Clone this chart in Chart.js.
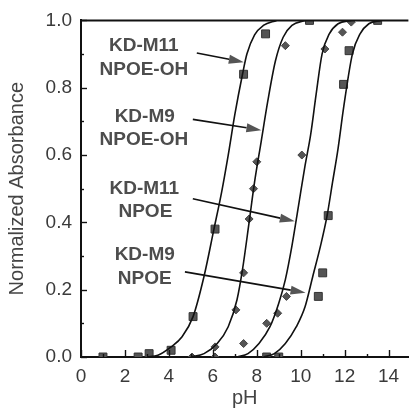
<!DOCTYPE html>
<html>
<head>
<meta charset="utf-8">
<script src="https://cdn.jsdelivr.net/npm/chart.js@4"></script>
<style>
  html, body { margin: 0; padding: 0; background: #fff; }
  #wrap { width: 415px; height: 410px; }
</style>
</head>
<body>
<div id="wrap"><canvas id="chart"></canvas></div>
<script>
// fitted curves (pH, normalized absorbance)
const curve1X = [3.0, 3.5, 4.1, 4.6, 5.1, 5.6, 6.05, 6.4, 6.7, 7.0, 7.35, 7.55, 7.9, 8.3, 8.9];
const curve1Y = [0, 0.005, 0.03, 0.06, 0.12, 0.24, 0.38, 0.49, 0.6, 0.72, 0.84, 0.9, 0.957, 0.985, 1.0];
const curve2X = [5.0, 5.6, 6.2, 6.7, 7.1, 7.35, 7.65, 7.9, 8.2, 8.5, 8.85, 9.2, 9.6, 10.2];
const curve2Y = [0, 0.01, 0.04, 0.09, 0.17, 0.26, 0.4, 0.52, 0.64, 0.76, 0.88, 0.95, 0.985, 1.0];
const curve3X = [7.1, 7.6, 8.1, 8.6, 9.0, 9.3, 9.6, 9.9, 10.2, 10.45, 10.7, 10.97, 11.3, 11.7, 12.3];
const curve3Y = [0, 0.01, 0.04, 0.09, 0.16, 0.23, 0.33, 0.45, 0.57, 0.66, 0.78, 0.9, 0.96, 0.99, 1.0];
const curve4X = [8.3, 8.8, 9.3, 9.8, 10.2, 10.55, 10.9, 11.2, 11.45, 11.7, 11.95, 12.35, 12.7, 13.1, 13.65];
const curve4Y = [0, 0.01, 0.04, 0.09, 0.15, 0.24, 0.33, 0.42, 0.52, 0.62, 0.74, 0.9, 0.96, 0.99, 1.0];

// measured points
const sq1X = [1.0, 2.6, 3.1, 4.1, 5.1, 6.1, 7.4, 8.4, 10.4];
const sq1Y = [0, 0, 0.01, 0.02, 0.12, 0.38, 0.84, 0.96, 1.0];
const dia2X = [5.05, 6.1, 6.1, 7.05, 7.4, 7.65, 7.85, 8.0, 9.3];
const dia2Y = [0, 0.03, 0, 0.14, 0.25, 0.41, 0.5, 0.58, 0.925];
const dia3X = [7.4, 8.45, 8.95, 9.35, 10.05, 11.1, 11.9, 12.3];
const dia3Y = [0.04, 0.1, 0.13, 0.18, 0.6, 0.915, 0.965, 0.995];
const sq4X = [8.45, 9.0, 10.8, 11.0, 11.25, 11.95, 12.2, 13.5];
const sq4Y = [0, 0, 0.18, 0.25, 0.42, 0.81, 0.91, 1.0];

// annotation texts (placed in data units)
const noteText = ['KD-M11', 'NPOE-OH', 'KD-M9', 'NPOE-OH', 'KD-M11', 'NPOE', 'KD-M9', 'NPOE'];
const noteX = [2.86, 2.86, 2.9, 2.86, 2.88, 2.93, 2.9, 2.9];
const noteY = [0.926, 0.853, 0.715, 0.644, 0.501, 0.432, 0.303, 0.232];

// arrows: start -> tip
const arrowX0 = [5.27, 5.09, 5.09, 4.73];
const arrowY0 = [0.903, 0.706, 0.47, 0.253];
const arrowX1 = [7.41, 8.21, 9.73, 10.22];
const arrowY1 = [0.876, 0.674, 0.403, 0.191];

const pts = (xs, ys) => xs.map((x, i) => ({ x: x, y: ys[i] }));

const curve = (xs, ys) => ({
  type: 'line',
  data: pts(xs, ys),
  showLine: true,
  borderColor: '#111',
  borderWidth: 1.6,
  pointRadius: 0,
  fill: false,
  cubicInterpolationMode: 'monotone'
});

const squares = (xs, ys) => ({
  type: 'scatter',
  data: pts(xs, ys),
  pointStyle: 'rect',
  pointRadius: 5.6,
  backgroundColor: '#555',
  borderColor: '#333',
  borderWidth: 1
});

const diamonds = (xs, ys) => ({
  type: 'scatter',
  data: pts(xs, ys),
  pointStyle: 'rectRot',
  pointRadius: 4,
  backgroundColor: '#555',
  borderColor: '#444',
  borderWidth: 1
});

// box top, inward ticks, labels and arrows
const decor = {
  id: 'decor',
  afterDatasetsDraw(chart) {
    const { ctx, chartArea: a, scales: { x, y } } = chart;
    ctx.save();
    ctx.strokeStyle = '#111';
    ctx.lineWidth = 2;
    ctx.beginPath();
    ctx.moveTo(a.left, a.top);
    ctx.lineTo(a.right, a.top);
    ctx.stroke();

    ctx.lineWidth = 1.4;
    y.ticks.forEach(t => {
      const py = Math.round(y.getPixelForValue(t.value)) + 0.5;
      const len = Math.round(t.value * 10) % 2 === 0 ? 6 : 3;
      ctx.beginPath();
      ctx.moveTo(a.left, py);
      ctx.lineTo(a.left + len, py);
      ctx.stroke();
    });
    x.ticks.forEach(t => {
      const px = Math.round(x.getPixelForValue(t.value)) + 0.5;
      const len = t.value % 2 === 0 ? 7 : 3;
      ctx.beginPath();
      ctx.moveTo(px, a.bottom);
      ctx.lineTo(px, a.bottom - len);
      ctx.stroke();
    });

    ctx.font = 'bold 19px "Liberation Sans", Arial, sans-serif';
    ctx.fillStyle = '#4d4d4d';
    ctx.textAlign = 'center';
    ctx.textBaseline = 'middle';
    noteText.forEach((s, i) => {
      ctx.fillText(s, x.getPixelForValue(noteX[i]), y.getPixelForValue(noteY[i]));
    });

    arrowX0.forEach((_, i) => {
      const sx = x.getPixelForValue(arrowX0[i]);
      const sy = y.getPixelForValue(arrowY0[i]);
      const ex = x.getPixelForValue(arrowX1[i]);
      const ey = y.getPixelForValue(arrowY1[i]);
      const ang = Math.atan2(ey - sy, ex - sx);
      const hl = 15, hw = 4.5;
      const bx = ex - hl * Math.cos(ang);
      const by = ey - hl * Math.sin(ang);
      ctx.strokeStyle = '#111';
      ctx.lineWidth = 1.6;
      ctx.beginPath();
      ctx.moveTo(sx, sy);
      ctx.lineTo(bx, by);
      ctx.stroke();
      ctx.fillStyle = '#555';
      ctx.beginPath();
      ctx.moveTo(ex, ey);
      ctx.lineTo(bx - hw * Math.sin(ang), by + hw * Math.cos(ang));
      ctx.lineTo(bx + hw * Math.sin(ang), by - hw * Math.cos(ang));
      ctx.closePath();
      ctx.fill();
    });
    ctx.restore();
  }
};

new Chart(document.getElementById('chart'), {
  type: 'scatter',
  data: {
    datasets: [
      curve(curve1X, curve1Y),
      curve(curve2X, curve2Y),
      curve(curve3X, curve3Y),
      curve(curve4X, curve4Y),
      squares(sq1X, sq1Y),
      diamonds(dia2X, dia2Y),
      diamonds(dia3X, dia3Y),
      squares(sq4X, sq4Y)
    ]
  },
  options: {
    responsive: true,
    maintainAspectRatio: false,
    animation: false,
    layout: { padding: { top: 17, right: 0, left: 0, bottom: 0 } },
    plugins: { legend: { display: false }, tooltip: { enabled: false } },
    scales: {
      x: {
        type: 'linear',
        min: 0,
        max: 14.9,
        afterFit: s => { s.height = 53; },
        border: { color: '#111', width: 2 },
        grid: { drawOnChartArea: false, drawTicks: false },
        ticks: {
          stepSize: 1,
          includeBounds: false,
          autoSkip: false,
          maxRotation: 0,
          padding: 8,
          color: '#3a3a3a',
          font: { family: '"Liberation Sans", Arial, sans-serif', size: 19 },
          callback: v => (v % 2 === 0 ? String(v) : '')
        },
        title: {
          display: true,
          text: 'pH',
          color: '#444',
          padding: { top: 0, bottom: 0 },
          font: { family: '"Liberation Sans", Arial, sans-serif', size: 20 }
        }
      },
      y: {
        type: 'linear',
        min: 0,
        max: 1,
        afterFit: s => { s.width = 81; },
        border: { color: '#111', width: 2 },
        grid: { drawOnChartArea: false, drawTicks: false },
        ticks: {
          stepSize: 0.1,
          autoSkip: false,
          padding: 9,
          color: '#3a3a3a',
          font: { family: '"Liberation Sans", Arial, sans-serif', size: 19 },
          callback: v => (Math.round(v * 10) % 2 === 0 ? v.toFixed(1) : '')
        },
        title: {
          display: true,
          text: 'Normalized Absorbance',
          color: '#444',
          padding: { top: 5, bottom: 0 },
          font: { family: '"Liberation Sans", Arial, sans-serif', size: 20 }
        }
      }
    }
  },
  plugins: [decor]
});
</script>
</body>
</html>
